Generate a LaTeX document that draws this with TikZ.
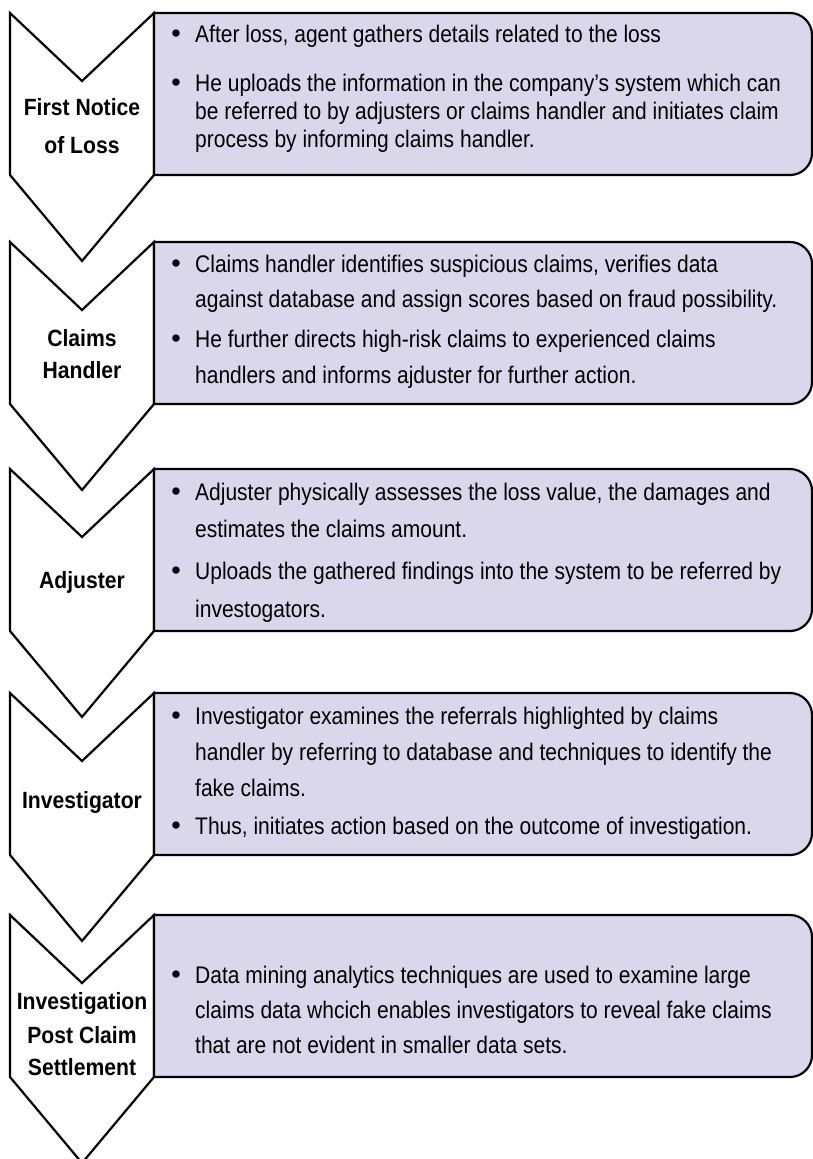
\documentclass[tikz,border=0pt]{standalone}
\usepackage{fontspec}
\setmainfont{Liberation Sans}[FakeStretch=0.875]
\newfontfamily\labelfont{Liberation Sans}[FakeStretch=0.9]
\newfontfamily\bulletfont{Liberation Sans}
\definecolor{panelfill}{RGB}{218,214,236}
\begin{document}
\begin{tikzpicture}[x=1pt,y=-1pt,
  chev/.style={draw=black,line width=2.2pt,fill=white,line join=miter},
  panel/.style={draw=black,line width=2.2pt,fill=panelfill},
  lbl/.style={font=\labelfont\fontsize{23.5}{27}\selectfont\bfseries,anchor=base,inner sep=0pt},
  txt/.style={font=\fontsize{24}{28}\selectfont,anchor=base west,inner sep=0pt},
  bul/.style={font=\bulletfont\fontsize{27}{30}\selectfont,anchor=base,inner sep=0pt}]
\useasboundingbox (0,0) rectangle (813,1159);

% chevrons: top edge T, notch T+68, body to T+162, tip T+248
\foreach \T in {13,242,469,693,915}{
  \draw[chev] (10,\T) -- (82,\T+68) -- (154,\T) -- (154,\T+162)
     -- (82,\T+248) -- (10,\T+162) -- cycle;
}
% text panels with rounded right corners
\foreach \T in {13,242,469,693,915}{
  \draw[panel] (154,\T) -- (790,\T) arc[start angle=90,end angle=0,radius=22pt]
     -- (812,\T+140) arc[start angle=0,end angle=-90,radius=22pt]
     -- (154,\T+162) -- cycle;
}

% step labels
\node[lbl] (l1a) at (82,115) {First Notice};
\node[lbl] (l1b) at (82,153) {of Loss};
\node[lbl] (l2a) at (82,346) {Claims};
\node[lbl] (l2b) at (82,378) {Handler};
\node[lbl] (l3) at (82,588) {Adjuster};
\node[lbl] (l4) at (82,808) {Investigator};
\node[lbl] (l5a) at (82,1009) {Investigation};
\node[lbl] (l5b) at (82,1043) {Post Claim};
\node[lbl] (l5c) at (82,1075) {Settlement};

% panel 1
\node[bul] (b11) at (176,42) {\textbullet};
\node[txt] (t11) at (195,42) {After loss, agent gathers details related to the loss};
\node[bul] (b12) at (176,91) {\textbullet};
\node[txt] (t12) at (195,91) {He uploads the information in the company’s system which can};
\node[txt] (t13) at (195,119) {be referred to by adjusters or claims handler and initiates claim};
\node[txt] (t14) at (195,147) {process by informing claims handler.};

% panel 2
\node[bul] (b21) at (176,272) {\textbullet};
\node[txt] (t21) at (195,272) {Claims handler identifies suspicious claims, verifies data};
\node[txt] (t22) at (195,307) {against database and assign scores based on fraud possibility.};
\node[bul] (b22) at (176,347) {\textbullet};
\node[txt] (t23) at (195,347) {He further directs high-risk claims to experienced claims};
\node[txt] (t24) at (195,383) {handlers and informs ajduster for further action.};

% panel 3
\node[bul] (b31) at (176,500) {\textbullet};
\node[txt] (t31) at (195,500) {Adjuster physically assesses the loss value, the damages and};
\node[txt] (t32) at (195,537) {estimates the claims amount.};
\node[bul] (b32) at (176,579) {\textbullet};
\node[txt] (t33) at (195,579) {Uploads the gathered findings into the system to be referred by};
\node[txt] (t34) at (195,617) {investogators.};

% panel 4
\node[bul] (b41) at (176,724) {\textbullet};
\node[txt] (t41) at (195,724) {Investigator examines the referrals highlighted by claims};
\node[txt] (t42) at (195,760) {handler by referring to database and techniques to identify the};
\node[txt] (t43) at (195,796) {fake claims.};
\node[bul] (b42) at (176,834) {\textbullet};
\node[txt] (t44) at (195,834) {Thus, initiates action based on the outcome of investigation.};

% panel 5
\node[bul] (b51) at (176,983) {\textbullet};
\node[txt] (t51) at (195,983) {Data mining analytics techniques are used to examine large};
\node[txt] (t52) at (195,1018) {claims data whcich enables investigators to reveal fake claims};
\node[txt] (t53) at (195,1053) {that are not evident in smaller data sets.};
\end{tikzpicture}
\end{document}
